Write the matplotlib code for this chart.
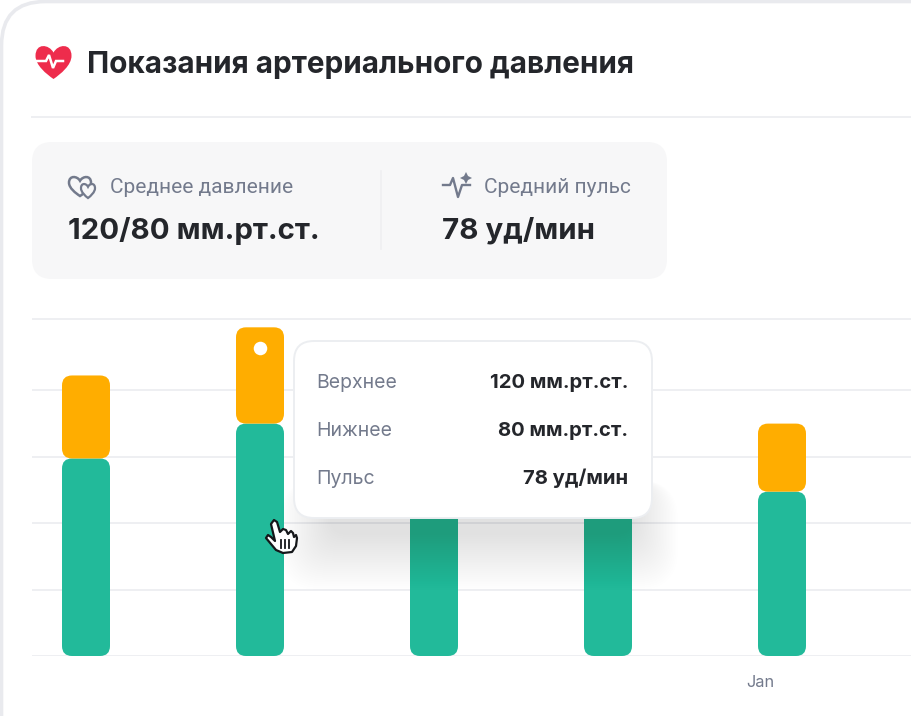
import matplotlib
matplotlib.use('Agg')
import matplotlib.pyplot as plt
from matplotlib.patches import FancyBboxPatch, PathPatch, Polygon
from matplotlib.path import Path

W, H = 912, 716

# values (third and fourth tops sit behind the tooltip)
categories = ['1', '2', '3', '4', 'Jan']
lower = [119, 140, 115, 125, 99]
upper = [50, 58, 35, 40, 41]
grid_values = [0, 40, 80, 120, 160, 203]
hover_point = (1, 185.5)

title = 'Показания артериального давления'
summary_labels = ['Среднее давление', 'Средний пульс']
summary_values = ['120/80 мм.рт.ст.', '78 уд/мин']
tooltip_labels = ['Верхнее', 'Нижнее', 'Пульс']
tooltip_values = ['120 мм.рт.ст.', '80 мм.рт.ст.', '78 уд/мин']

GREEN = '#22ba9a'
ORANGE = '#ffad00'
DARK = '#24262b'
GREY = '#737a8c'
LINE = '#eeeff2'
FONT = 'Inter'


def rounded(x0, y0, x1, y1, r, **kw):
    return FancyBboxPatch((x0, y0), x1 - x0, y1 - y0,
                          boxstyle=f'round,pad=0,rounding_size={r}', **kw)


def heart_path(cx, top, w, h):
    # simple bezier heart, top is the upper edge in pixel coords
    x = lambda v: cx + v * w / 2
    y = lambda v: top + v * h
    verts = [(x(0), y(0.2)),
             (x(0.25), y(-0.06)), (x(1.0), y(-0.1)), (x(1.0), y(0.3)),
             (x(1.0), y(0.58)), (x(0.4), y(0.85)), (x(0), y(1.0)),
             (x(-0.4), y(0.85)), (x(-1.0), y(0.58)), (x(-1.0), y(0.3)),
             (x(-1.0), y(-0.1)), (x(-0.25), y(-0.06)), (x(0), y(0.2)),
             (x(0), y(0.2))]
    codes = [Path.MOVETO] + [Path.CURVE4] * 12 + [Path.CLOSEPOLY]
    return Path(verts, codes)


fig = plt.figure(figsize=(W / 100, H / 100), dpi=100, facecolor='white')

# page layer: card, panel
bg = fig.add_axes([0, 0, 1, 1], zorder=1)
bg.set_xlim(0, W)
bg.set_ylim(H, 0)
bg.axis('off')
bg.add_patch(rounded(1.5, 1.5, W + 60, H + 60, 44, fc='white', ec='#e9eaee', lw=2.6))
bg.plot([32, W], [117, 117], color=LINE, lw=1.4)
bg.add_patch(rounded(32, 142, 667, 279, 20, fc='#f7f7f8', ec='none'))
bg.plot([381, 381], [171, 249], color='#efeff1', lw=1.2)

# bars
px_per_cat = 174
px_per_val = 1.66
ax = fig.add_axes([32 / W, (H - 656) / H, (W - 32) / W, 350 / H], zorder=2)
ax.patch.set_alpha(0)
ax.set_xlim((32 - 86) / px_per_cat, (W - 86) / px_per_cat)
ax.set_ylim(0, 350 / px_per_val)
for side in ax.spines.values():
    side.set_visible(False)
ax.set_xticks([])
ax.set_yticks(grid_values)
ax.tick_params(axis='y', length=0, labelleft=False)
ax.yaxis.grid(True, color=LINE, lw=1.4)
ax.set_axisbelow(True)

xs = range(len(categories))
bar_w = 48 / px_per_cat
green_bars = ax.bar(xs, lower, bar_w, color=GREEN)
orange_bars = ax.bar(xs, upper, bar_w, bottom=lower, color=ORANGE)
# swap the square bars for rounded ones with the same bounds
for bar_set, col in ((green_bars, GREEN), (orange_bars, ORANGE)):
    for b in bar_set:
        b.set_visible(False)
        ax.add_patch(FancyBboxPatch(b.get_xy(), b.get_width(), b.get_height(),
                                    boxstyle=f'round,pad=0,rounding_size={10 / px_per_cat}',
                                    mutation_aspect=px_per_cat / px_per_val,
                                    fc=col, ec='none', zorder=3))
ax.scatter(*hover_point, s=95, color='white', linewidths=0, zorder=4)

# overlay: text, icons, tooltip
top = fig.add_axes([0, 0, 1, 1], zorder=3)
top.patch.set_alpha(0)
top.set_xlim(0, W)
top.set_ylim(H, 0)
top.axis('off')

top.text(87, 73, title, fontsize=21.4, fontweight='bold', family=FONT, color=DARK, va='baseline')

# header heart
top.add_patch(PathPatch(heart_path(53.5, 46, 36, 33), fc='#ee2c4c', ec='none'))
top.plot([35, 46, 49, 53, 56, 63], [61, 61, 55, 68, 61, 61], color='white', lw=1.8, solid_joinstyle='miter')

# panel icons
top.add_patch(PathPatch(heart_path(80, 177, 22, 19), fc='none', ec=GREY, lw=1.8))
top.add_patch(PathPatch(heart_path(88, 184, 14, 14), fc='#f7f7f8', ec=GREY, lw=1.6))
top.plot([443, 450, 453, 458, 462, 470], [185, 185, 178, 197, 185, 185], color=GREY, lw=1.7)
top.add_patch(Polygon([(466, 172), (468, 176), (472, 178), (468, 180), (466, 184), (464, 180), (460, 178), (464, 176)],
                      fc=GREY, ec='none'))

top.text(110, 193, summary_labels[0], fontsize=15, family='Roboto', color=GREY)
top.text(484, 193, summary_labels[1], fontsize=15, family='Roboto', color=GREY)
top.text(68, 239, summary_values[0], fontsize=21.2, fontweight='bold', family=FONT, color=DARK)
top.text(442, 239, summary_values[1], fontsize=21.2, fontweight='bold', family=FONT, color=DARK)

# tooltip shadow, only below and right of the box
n_layers = 30
for i in range(n_layers):
    grow = 60 - i * 1.9
    top.add_patch(rounded(334 - grow * 0.9, 480, 630 + grow * 0.8, 530 + grow, 16 + grow * 0.4,
                          fc='#1e2433', ec='none', alpha=0.0024))
top.add_patch(rounded(294, 341, 652, 518, 20, fc='white', ec='#eceef1', lw=1.4))
for label, value, yy in zip(tooltip_labels, tooltip_values, (388, 436, 484)):
    top.text(316, yy, label, fontsize=14, family=FONT, color=GREY)
    top.text(628, yy, value, fontsize=14.6, fontweight='bold', family=FONT, color=DARK, ha='right')

top.text(760, 687, categories[-1], fontsize=11.8, family=FONT, color=GREY, ha='center')

# hand cursor
hand = [(271, 524), (274, 520), (277, 522), (280, 532), (283, 529), (286, 530), (288, 534),
        (291, 531), (293, 533), (294, 537), (296, 535), (297, 538), (296, 546), (292, 552),
        (283, 553), (276, 550), (266, 538), (268, 535), (271, 537), (275, 541)]
top.add_patch(Polygon(hand, fc='white', ec='#15171a', lw=1.6, joinstyle='round'))
for xx in (281, 285, 289):
    top.plot([xx, xx], [540, 548], color='#15171a', lw=1.3)

fig.savefig('out.png', dpi=100)
